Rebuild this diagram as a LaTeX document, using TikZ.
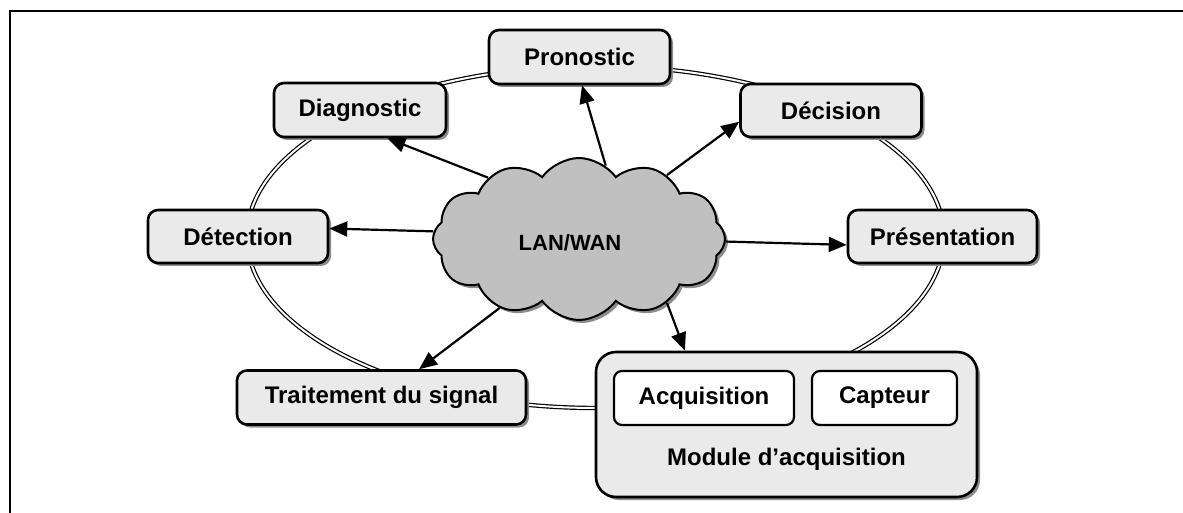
\documentclass[tikz,border=0pt]{standalone}
\usepackage{fontspec}
\setmainfont{Liberation Sans}
\usetikzlibrary{shapes.symbols,shadows,arrows.meta}
\definecolor{boxgray}{HTML}{EAEAEA}
\definecolor{cloudgray}{HTML}{C0C0C0}
\definecolor{shadowgray}{HTML}{8C8C8C}
\tikzset{
  boxshadow/.style={drop shadow={shadow xshift=1.5pt, shadow yshift=-1.5pt, fill=shadowgray, opacity=1}},
  box/.style={draw=black, line width=1.3pt, rounded corners=5pt, fill=boxgray,
    font=\bfseries\fontsize{12}{14}\selectfont, inner sep=0pt, boxshadow},
  inbox/.style={draw=black, line width=1.1pt, rounded corners=4pt, fill=white,
    font=\bfseries\fontsize{12}{14}\selectfont, inner sep=0pt},
  lbl/.style={font=\bfseries\fontsize{12}{14}\selectfont, inner sep=0pt},
  arr/.style={line width=1.1pt, -{Triangle[length=9pt,width=7.5pt]}},
  ring/.style={double, double distance=1pt, line width=0.6pt},
}
\begin{document}
\begin{tikzpicture}[x=0.5pt,y=-0.5pt]
\useasboundingbox (0,0) rectangle (1183,513);
\draw[line width=1pt] (10,530) -- (10,11) -- (1200,11);

\draw[ring] (595.5,237) ellipse [x radius=174.25pt, y radius=85.5pt];

\node[box, minimum width=90.5pt, minimum height=27pt] (pron) at (579.5,57) {Pronostic};
\node[box, minimum width=86pt, minimum height=27pt] (diag) at (360,110) {Diagnostic};
\node[box, minimum width=90.5pt, minimum height=26.5pt] (dec) at (831,110.5) {Décision};
\node[box, minimum width=90pt, minimum height=26.5pt] (det) at (238,236.5) {Détection};
\node[box, minimum width=94.5pt, minimum height=26.5pt] (pres) at (942.5,236.5) {Présentation};
\node[box, minimum width=144.5pt, minimum height=27pt] (trait) at (381.5,397.5) {Traitement du signal};
\node[box, minimum width=190.5pt, minimum height=72.5pt, rounded corners=10pt] (module) at (786.5,424.5) {};
\node[inbox, minimum width=90pt, minimum height=27pt] (acq) at (704,398) {Acquisition};
\node[inbox, minimum width=72.5pt, minimum height=27pt] (capt) at (884.5,398) {Capteur};
\node[lbl] (modlabel) at (786.5,459) {Module d’acquisition};

\node[cloud, draw=black, fill=cloudgray, line width=1pt, cloud puffs=12, cloud puff arc=110,
  aspect=1.8, minimum width=146pt, minimum height=81pt, inner sep=0pt, boxshadow] (cloud) at (579,239) {};
\node[font=\bfseries\fontsize{11}{13}\selectfont, inner sep=0pt] (lan) at (570,243) {LAN/WAN};

\draw[arr] (cloud.146) -- (diag.-46);
\draw[arr] (cloud.70) -- (pron.-85);
\draw[arr] (cloud.36) -- (dec.187);
\draw[arr] (cloud.177) -- (det.5);
\draw[arr] (cloud.-1) -- (pres.185);
\draw[arr] (cloud.221) -- (trait.37);
\draw[arr] (cloud.-36) -- (module.144.5);
\end{tikzpicture}
\end{document}
